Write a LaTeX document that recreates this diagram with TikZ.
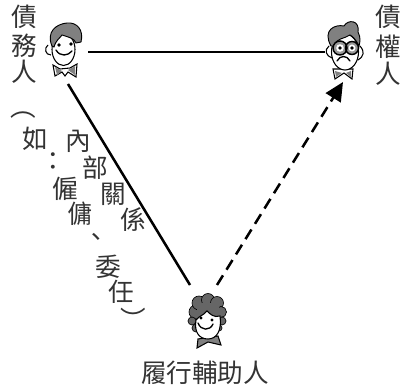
\documentclass[tikz,border=0pt]{standalone}
\usepackage{fontspec}
\setmainfont{Noto Sans CJK TC}[Scale=1]
\newfontfamily\cjk{Noto Sans CJK TC}
\usetikzlibrary{positioning, arrows.meta}

\tikzset{
 ch/.style={inner sep=0pt, font=\cjk\fontsize{19.2pt}{19.2pt}\selectfont, text=black!80},
 link/.style={line width=1.9pt, black},
 linkdash/.style={link, dash pattern=on 8.5pt off 5pt, -{Triangle[length=14pt,width=13pt]}},
 hair/.style={fill=black!50, draw=black, line width=0.7pt},
 skin/.style={fill=white, draw=black, line width=0.8pt},
 feat/.style={draw=black, line width=1pt, line cap=round}
}

\begin{document}
\begin{tikzpicture}[x=0.75pt, y=-0.75pt]
\useasboundingbox (0,0) rectangle (400,388);

% labels
\node[ch] (l1) at (24,17) {債};
\node[ch] (l2) at (24,46) {務};
\node[ch] (l3) at (24,72) {人};

\node[ch] (r1) at (388,17) {債};
\node[ch] (r2) at (388,47) {權};
\node[ch] (r3) at (388,74) {人};

\node[ch] (help) at (205,373) {履行輔助人};

% text along the line
\node[ch] (p1) at (23,115) {︵};
\node[ch] (n1) at (35,139) {如};
\node[ch] (n2) at (78,141) {內};
\node[ch] (n3) at (53,162) {：};
\node[ch] (n4) at (95,168) {部};
\node[ch] (n5) at (65,189) {僱};
\node[ch] (n6) at (113,194) {關};
\node[ch] (n7) at (80,214) {傭};
\node[ch] (n8) at (133,220) {係};
\node[ch] (n9) at (96,240) {、};
\node[ch] (n10) at (108,267) {委};
\node[ch] (n11) at (121,292) {任};
\node[ch] (p2) at (133,319) {︶};

% left face
\draw[skin] (48,45) .. controls (44,48) and (45,55) .. (51,55);
\draw[skin] (53,65) -- (60,69) -- (70,68) -- (77,64) -- (76,77) -- (68,72) -- (65,76) -- (62,72) -- (55,76) -- cycle;
\fill[black!50] (55,67) -- (62,71) -- (57,75) -- cycle (75,66) -- (68,70) -- (75,75) -- cycle;
\draw[skin] (63.5,49.5) ellipse [x radius=11.5, y radius=16];
\draw[hair] (52,46) .. controls (46,32) and (56,24) .. (67,23)
 .. controls (77,22) and (84,30) .. (81,42) -- (76,43)
 .. controls (74,38) and (68,37) .. (62,35)
 .. controls (60,38) and (56,40) .. (54,47) -- cycle;
\fill (59,45) circle (1.8) (71,44) circle (1.8);
\draw[feat] (56,50) .. controls (60,57) and (68,56) .. (72,51);

% right face
\draw[skin] (333,69) -- (353,69) -- (352,79) -- (344,73) -- (335,79) -- cycle;
\fill[black!50] (335,71) -- (342,73) -- (336,77) -- cycle (351,71) -- (346,73) -- (351,77) -- cycle;
\draw[skin] (345,52) ellipse [x radius=13.5, y radius=18];
\draw[feat, line width=0.8pt] (329,46) .. controls (324,50) and (326,56) .. (332,58);
\draw[feat, line width=0.8pt] (360,46) .. controls (365,52) and (364,56) .. (358,60);
\draw[hair] (331,46) .. controls (322,30) and (335,24) .. (344,26)
 .. controls (348,19) and (360,20) .. (358,32)
 .. controls (361,38) and (360,42) .. (359,46)
 .. controls (355,38) and (352,36) .. (350,35)
 .. controls (344,39) and (336,38) .. (334,46) -- cycle;
\draw[draw=black, line width=1.1pt, fill=black!40] (340,48) circle (7) (352,48) circle (6.5);
\fill[white] (340,48) circle (3.8) (352,48) circle (3.5);
\fill (340,48) circle (1.8) (352,48) circle (1.8);
\draw[feat] (337,61) .. controls (340,55) and (347,55) .. (350,61);

% bottom face
\foreach \cx/\cy/\rr in {196/312/7,192/321/4,196/328/4,199/303/7,208/300/6.5,217/303/6.5,221/312/5.5,222/321/4,219/328/3}
 \draw[fill=black!60, draw=black, line width=0.5pt] (\cx,\cy) circle (\rr);
\fill[black!60] (197,303) rectangle (219,322);
\draw[skin, fill=black!50] (198,339) -- (218,336) -- (221,345) -- (208,342) -- (197,348) -- cycle;
\draw[skin] (196,320) .. controls (194,332) and (199,339) .. (208,339)
 .. controls (217,339) and (222,330) .. (220,316)
 .. controls (214,318) and (210,314) .. (207,311)
 .. controls (204,315) and (199,316) .. (196,320) -- cycle;
\fill (201,318) circle (1.7) (212,320) circle (1.7);
\draw[feat] (198,323) .. controls (201,331) and (210,331) .. (213,324);

% connectors
\coordinate (dr) at (88,52);
\coordinate (db) at (68,84);
\coordinate (cl) at (325,52);
\coordinate (ca) at (343,82);
\coordinate (hl) at (190,285);
\coordinate (hr) at (217,285);

\draw[link] (dr) -- (cl);
\draw[link] (db) -- (hl);
\draw[linkdash] (hr) -- (ca);

\end{tikzpicture}
\end{document}
